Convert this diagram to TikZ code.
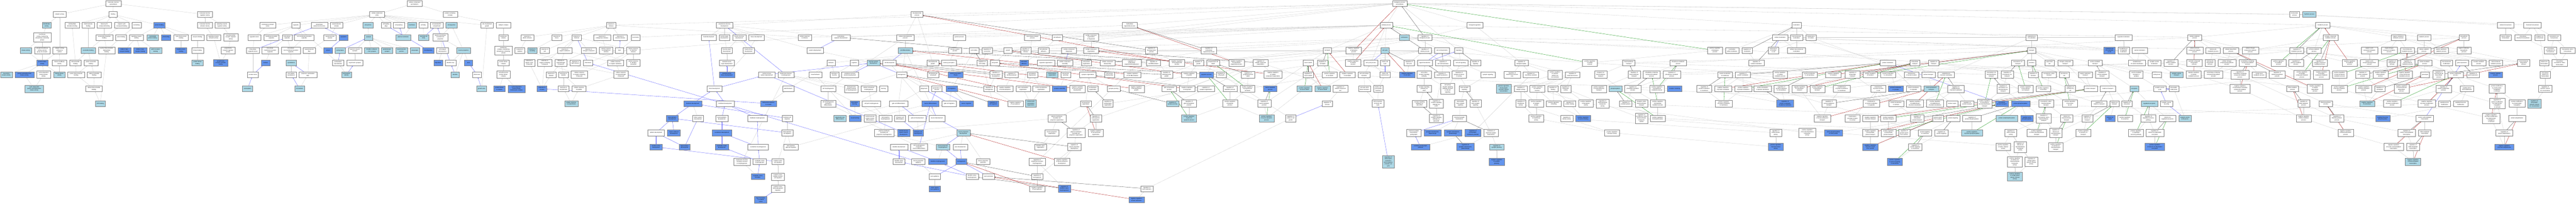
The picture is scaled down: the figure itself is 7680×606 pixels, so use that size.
\documentclass[tikz,border=0pt]{standalone}
\usepackage{fontspec}
\setmainfont{Liberation Sans}
\usetikzlibrary{arrows.meta}
\definecolor{lb}{HTML}{ADD8E6}
\definecolor{cf}{HTML}{6495ED}
\pgfdeclarelayer{bg}
\pgfsetlayers{bg,main}
\newcommand\N[6]{\node[g#5,minimum width=#4pt] (#1) at (#2,-#3) {#6};}
\begin{document}
\begin{tikzpicture}[x=1pt,y=1pt,
 gn/.style={draw=black!50,line width=0.6pt,rectangle,align=center,inner xsep=1pt,inner ysep=3.6pt,minimum height=17pt,font=\fontsize{3.9}{5.2}\selectfont},
 gw/.style={gn,fill=white},
 gl/.style={gn,fill=lb},
 gc/.style={gn,fill=cf},
 ee/.style={draw=black!22,line width=0.45pt,-{Latex[length=2.6pt,width=2.2pt]}},
 eb/.style={draw=blue!70!white,line width=0.5pt,-{Latex[length=2.6pt,width=2.2pt]}},
 er/.style={draw=red!65!black,line width=0.5pt,-{Latex[length=2.6pt,width=2.2pt]}},
 eg/.style={draw=green!55!black,line width=0.5pt,-{Latex[length=2.6pt,width=2.2pt]}},
 ek/.style={draw=black!75,line width=0.5pt,-{Latex[length=2.6pt,width=2.2pt]}}]
\useasboundingbox (0,0) rectangle (7680,-606);
% ---------------- molecular function
\N{m0}{338}{10}{45}{w}{molecular\_function\\GO:0003674}
\N{m1}{178}{43}{39}{w}{catalytic activity}
\N{m2}{337}{43}{24}{w}{binding}
\N{m3}{611}{43}{44}{w}{molecular function\\regulator activity}
\N{m4}{139}{75}{27}{l}{transferase\\activity}
\N{m5}{215}{75}{43}{w}{carbohydrate\\derivative binding}
\N{m6}{263}{75}{37}{w}{small molecule\\binding}
\N{m7}{311}{75}{43}{w}{heterocyclic\\compound binding}
\N{m8}{363}{75}{44}{w}{organic cyclic\\compound binding}
\N{m9}{407}{75}{27}{w}{ion binding}
\N{m10}{475}{75}{35}{c}{protein binding}
\N{m11}{611}{75}{44}{w}{molecular function\\activator activity}
\N{m12}{662}{75}{43}{w}{signaling receptor\\regulator activity}
\N{m13}{126}{111}{53}{w}{transferase\\activity, transferring\\phosphorus-containing\\groups}
\N{m14}{311}{111}{50}{w}{nucleoside phosphate\\binding}
\N{m15}{361}{111}{32}{w}{anion binding}
\N{m16}{407}{111}{42}{w}{signaling receptor\\binding}
\N{m17}{455}{111}{35}{l}{cytoskeletal\\protein binding}
\N{m18}{495}{111}{28}{c}{p53 binding}
\N{m19}{540}{111}{43}{w}{heat shock protein\\binding}
\N{m20}{589}{111}{38}{w}{enzyme binding}
\N{m21}{637}{111}{42}{w}{signaling receptor\\activator activity}
\N{m22}{688}{111}{43}{w}{neurotransmitter\\receptor regulator\\activity}
\N{m23}{77}{150}{35}{l}{kinase activity}
\N{m24}{126}{150}{46}{w}{phosphotransferase\\activity, alcohol\\group as acceptor}
\N{m25}{178}{150}{41}{w}{catalytic activity,\\acting on a\\protein}
\N{m26}{263}{150}{43}{l}{nucleotide binding}
\N{m27}{318}{150}{50}{w}{purine ribonucleoside\\triphosphate\\binding}
\N{m28}{371}{150}{38}{c}{ErbB-3 class\\receptor binding}
\N{m29}{418}{150}{39}{c}{ErbB-2 class\\receptor binding}
\N{m30}{464}{150}{36}{l}{ephrin receptor\\binding}
\N{m31}{540}{150}{34}{c}{Hsp90 protein\\binding}
\N{m32}{589}{150}{35}{w}{kinase binding}
\N{m33}{680}{150}{42}{w}{acetylcholine\\receptor regulator\\activity}
\N{m34}{126}{187}{34}{c}{protein kinase\\activity}
\N{m35}{177}{187}{43}{w}{histone modifying\\activity}
\N{m36}{225}{187}{34}{w}{ribonucleotide\\binding}
\N{m37}{271}{187}{41}{w}{purine nucleotide\\binding}
\N{m38}{589}{187}{34}{l}{protein kinase\\binding}
\N{m39}{658}{187}{43}{c}{acetylcholine\\receptor activator\\activity}
\N{m40}{19}{222}{35}{l}{tau-protein\\kinase activity}
\N{m41}{73}{222}{56}{c}{protein serine/threonine\\kinase activity}
\N{m42}{130}{222}{41}{w}{cyclin-dependent\\protein kinase\\activity}
\N{m43}{177}{222}{35}{l}{histone kinase\\activity}
\N{m44}{227}{222}{50}{w}{purine ribonucleoside\\binding}
\N{m45}{281}{222}{42}{w}{adenyl nucleotide\\binding}
\N{m46}{102}{264}{56}{l}{cyclin-dependent\\protein serine/threonine\\kinase activity}
\N{m47}{280}{264}{50}{w}{adenyl ribonucleotide\\binding}
\N{m48}{299}{308}{29}{l}{ATP binding}
% ---------------- cellular component
\N{c0}{1236}{10}{46}{w}{cellular\_component\\GO:0005575}
\N{c1}{1124}{43}{45}{w}{cellular anatomical\\entity}
\N{c2}{798}{75}{48}{w}{membrane-enclosed\\lumen}
\N{c3}{882}{75}{25}{w}{organelle}
\N{c4}{952}{75}{49}{w}{intracellular\\anatomical structure}
\N{c5}{1003}{75}{37}{w}{supramolecular\\complex}
\N{c6}{1097}{75}{30}{l}{cell junction}
\N{c7}{1151}{75}{28}{w}{cell leading\\edge}
\N{c8}{1189}{75}{33}{w}{cell periphery}
\N{c9}{1228}{75}{27}{l}{membrane}
\N{c10}{1262}{75}{25}{w}{cell body}
\N{c11}{758}{111}{39}{w}{organelle lumen}
\N{c12}{809}{111}{45}{w}{membrane-bounded\\organelle}
\N{c13}{856}{111}{29}{w}{intracellular\\organelle}
\N{c14}{907}{111}{58}{w}{non-membrane-bounded\\organelle}
\N{c15}{984}{111}{37}{w}{supramolecular\\polymer}
\N{c16}{1024}{111}{25}{c}{cytoplasm}
\N{c17}{1099}{111}{25}{l}{synapse}
\N{c18}{1202}{111}{44}{l}{plasma membrane}
\N{c19}{1263}{111}{30}{l}{neuronal cell\\body}
\N{c20}{754}{150}{39}{w}{intracellular\\organelle lumen}
\N{c21}{805}{150}{48}{w}{intracellular\\membrane-bounded\\organelle}
\N{c22}{867}{150}{57}{w}{intracellular\\non-membrane-bounded\\organelle}
\N{c23}{922}{150}{37}{w}{supramolecular\\fiber}
\N{c24}{978}{150}{25}{c}{cytosol}
\N{c25}{1014}{150}{30}{l}{postsynapse}
\N{c26}{1058}{150}{40}{w}{neuron to neuron\\synapse}
\N{c27}{1108}{150}{43}{l}{Schaffer collateral\\- CA1 synapse}
\N{c28}{1154}{150}{33}{l}{glutamatergic\\synapse}
\N{c29}{1197}{150}{35}{l}{neuromuscular\\junction}
\N{c30}{1237}{150}{27}{l}{presynapse}
\N{c31}{1277}{150}{33}{c}{lamellipodium}
\N{c32}{792}{187}{25}{c}{nucleus}
\N{c33}{868}{187}{31}{l}{cytoskeleton}
\N{c34}{1008}{187}{33}{w}{postsynaptic\\specialization}
\N{c35}{1058}{187}{48}{w}{asymmetric synapse}
\N{c36}{754}{222}{33}{w}{nuclear lumen}
\N{c37}{868}{222}{30}{w}{microtubule\\cytoskeleton}
\N{c38}{918}{222}{54}{w}{polymeric cytoskeletal\\fiber}
\N{c39}{1033}{222}{30}{l}{postsynaptic\\density}
\N{c40}{738}{264}{31}{l}{nucleoplasm}
\N{c41}{893}{264}{29}{l}{microtubule}
\N{c42}{1342}{43}{43}{w}{protein-containing\\complex}
\N{c43}{1302}{75}{39}{w}{somatodendritic\\compartment}
\N{c44}{1346}{75}{34}{l}{cell projection}
\N{c45}{1452}{75}{38}{w}{site of polarized\\growth}
\N{c46}{1501}{75}{43}{w}{catalytic complex}
\N{c47}{1313}{111}{44}{w}{plasma membrane\\bounded cell\\projection}
\N{c48}{1501}{111}{27}{w}{transferase\\complex}
\N{c49}{1319}{150}{34}{w}{actin-based\\cell projection}
\N{c50}{1382}{150}{41}{l}{neuron projection}
\N{c51}{1501}{150}{53}{w}{transferase\\complex, transferring\\phosphorus-containing\\groups}
\N{c52}{1306}{187}{26}{c}{filopodium}
\N{c53}{1343}{187}{32}{w}{dendritic tree}
\N{c54}{1397}{187}{25}{c}{axon}
\N{c55}{1501}{187}{34}{w}{protein kinase\\complex}
\N{c56}{1357}{222}{25}{l}{dendrite}
\N{c57}{1422}{222}{27}{w}{distal axon}
\N{c58}{1501}{222}{39}{w}{serine/threonine\\protein kinase\\complex}
\N{c59}{1436}{264}{30}{l}{growth cone}
\N{c60}{1489}{264}{34}{c}{protein kinase\\5 complex}
\N{c61}{1540}{264}{50}{c}{cyclin-dependent\\protein kinase\\holoenzyme complex}
% ---------------- biological process
\N{b0}{4173}{10}{43}{w}{biological\_process\\GO:0008150}
\N{b1}{2734}{43}{35}{w}{developmental\\process}
\N{b2}{3368}{75}{45}{w}{multicellular\\organismal process}
\N{b3}{4133}{75}{37}{w}{cellular process}
\N{b4}{4397}{75}{47}{w}{biological regulation}
\N{b5}{1822}{75}{28}{w}{response to\\stimulus}
\N{b6}{2160}{75}{49}{w}{anatomical structure\\development}
\N{b7}{5356}{75}{27}{w}{localization}
\N{b8}{6841}{43}{30}{w}{homeostatic\\process}
\N{b9}{6885}{43}{40}{l}{rhythmic process}
\N{b10}{6925}{75}{43}{w}{metabolic process}
\N{b11}{7470}{75}{49}{w}{cellular homeostasis}
\N{b12}{7550}{75}{52}{w}{chemical homeostasis}
\N{b13}{1572}{111}{38}{w}{response to\\abiotic stimulus}
\N{b14}{1660}{111}{29}{w}{response to\\stress}
\N{b15}{1719}{111}{28}{w}{response to\\chemical}
\N{b16}{1795}{111}{50}{w}{response to\\endogenous stimulus}
\N{b17}{1849}{111}{41}{w}{response to\\external stimulus}
\N{b18}{1895}{111}{27}{w}{locomotion}
\N{b19}{1550}{150}{29}{w}{response to\\radiation}
\N{b20}{1587}{150}{29}{l}{response to\\wounding}
\N{b21}{1624}{150}{28}{w}{response to\\salt}
\N{b22}{1684}{150}{43}{w}{response to\\organic substance}
\N{b23}{1755}{150}{45}{w}{response to\\nitrogen compound}
\N{b24}{1807}{150}{40}{w}{cellular response\\to endogenous\\stimulus}
\N{b25}{1847}{150}{25}{w}{taxis}
\N{b26}{1888}{150}{40}{w}{cellular response\\to chemical\\stimulus}
\N{b27}{1578}{187}{32}{w}{response to\\organic cyclic\\compound}
\N{b28}{1624}{187}{43}{w}{response to\\oxygen-containing\\compound}
\N{b29}{1672}{187}{36}{w}{response to\\organonitrogen\\compound}
\N{b30}{1715}{187}{31}{w}{response to\\light stimulus}
\N{b31}{1753}{187}{28}{w}{chemotaxis}
\N{b32}{1835}{187}{48}{w}{cellular response\\to organic substance}
\N{b33}{1888}{187}{40}{w}{cellular response\\to nitrogen\\compound}
\N{b34}{1643}{222}{28}{w}{response to\\alkaloid}
\N{b35}{1680}{222}{30}{w}{response to\\peptide}
\N{b36}{1727}{222}{50}{w}{cellular response\\to oxygen-containing\\compound}
\N{b37}{1851}{222}{42}{w}{cellular response\\to organonitrogen\\compound}
\N{b38}{1616}{264}{29}{c}{response to\\cocaine}
\N{b39}{1680}{264}{32}{w}{response to\\amyloid-beta}
\N{b40}{1726}{264}{40}{w}{cellular response\\to peptide}
\N{b41}{1703}{308}{40}{l}{cellular response\\to amyloid-beta}
\N{b42}{2113}{111}{44}{w}{head development}
\N{b43}{2160}{111}{31}{w}{animal organ\\development}
\N{b44}{2204}{111}{40}{w}{muscle structure\\development}
\N{b45}{2255}{111}{47}{w}{tissue development}
\N{b46}{2399}{111}{40}{w}{cellular response\\to stimulus}
\N{b47}{2507}{111}{54}{w}{multicellular\\organism development}
\N{b48}{2167}{150}{32}{w}{muscle organ\\development}
\N{b49}{2232}{150}{33}{w}{muscle tissue\\development}
\N{b50}{2430}{150}{50}{w}{system development}
\N{b51}{2167}{187}{45}{w}{skeletal muscle\\organ development}
\N{b52}{2478}{187}{25}{w}{behavior}
\N{b53}{2547}{187}{25}{w}{cognition}
\N{b54}{2604}{187}{38}{l}{nervous system\\development}
\N{b55}{2167}{222}{46}{c}{skeletal muscle\\tissue development}
\N{b56}{2286}{222}{49}{w}{central nervous\\system development}
\N{b57}{2343}{222}{48}{w}{anatomical structure\\morphogenesis}
\N{b58}{2431}{222}{37}{w}{visual behavior}
\N{b59}{2488}{222}{25}{w}{learning or\\memory}
\N{b60}{2534}{222}{50}{w}{peripheral nervous\\system development}
\N{b61}{2130}{264}{45}{w}{brain development}
\N{b62}{2350}{264}{34}{w}{adult behavior}
\N{b63}{2469}{264}{45}{w}{cell morphogenesis}
\N{b64}{2538}{264}{40}{w}{developmental\\growth involved\\in morphogenesis}
\N{b65}{2590}{264}{45}{w}{cellular component\\morphogenesis}
\N{b66}{2634}{264}{25}{w}{learning}
\N{b67}{2065}{308}{54}{c}{forebrain development}
\N{b68}{2162}{308}{54}{w}{hindbrain development}
\N{b69}{2291}{308}{47}{c}{behavioral response\\to cocaine}
\N{b70}{2469}{308}{45}{w}{cell morphogenesis\\involved in\\differentiation}
\N{b71}{2548}{308}{28}{c}{associative\\learning}
\N{b72}{2598}{308}{55}{w}{cell part morphogenesis}
\N{b73}{2004}{352}{34}{c}{telencephalon\\development}
\N{b74}{2081}{352}{33}{w}{limbic system\\development}
\N{b75}{2152}{352}{36}{w}{metencephalon\\development}
\N{b76}{2258}{352}{58}{w}{hindbrain morphogenesis}
\N{b77}{2347}{352}{30}{w}{forebrain cell\\migration}
\N{b78}{2504}{352}{37}{l}{oligodendrocyte\\differentiation}
\N{b79}{2549}{352}{35}{c}{visual learning}
\N{b80}{2594}{352}{36}{w}{central nervous\\system neuron\\differentiation}
\N{b81}{2640}{352}{38}{w}{cell projection\\morphogenesis}
\N{b82}{1956}{395}{49}{w}{pallium development}
\N{b83}{2009}{395}{38}{c}{corpus callosum\\development}
\N{b84}{2152}{395}{58}{c}{cerebellum development}
\N{b85}{2347}{395}{33}{w}{telencephalon\\cell migration}
\N{b86}{2636}{395}{59}{w}{plasma membrane\\bounded cell\\projection morphogenesis}
\N{b87}{1956}{437}{37}{c}{cerebral cortex\\development}
\N{b88}{2041}{437}{32}{c}{hippocampus\\development}
\N{b89}{2152}{437}{40}{c}{cerebellar cortex\\development}
\N{b90}{2260}{437}{62}{w}{cerebellum morphogenesis}
\N{b91}{2358}{437}{44}{w}{telencephalon\\glial cell migration}
\N{b92}{2212}{481}{49}{w}{anatomical structure\\formation involved\\in morphogenesis}
\N{b93}{2265}{481}{40}{w}{cerebellar cortex\\morphogenesis}
\N{b94}{2319}{481}{36}{w}{cerebral cortex\\cell migration}
\N{b95}{2259}{525}{40}{c}{cerebellar cortex\\formation}
\N{b96}{2319}{525}{38}{w}{cerebral cortex\\radially oriented\\cell migration}
\N{b97}{2319}{561}{40}{w}{cerebral cortex\\radial glia-guided\\migration}
\N{b98}{2268}{594}{37}{c}{layer formation\\in cerebral\\cortex}
\N{b99}{2699}{111}{52}{w}{cellular developmental\\process}
\N{b100}{2860}{111}{37}{w}{system process}
\N{b101}{3078}{111}{47}{w}{actin filament-based\\process}
\N{b102}{3152}{111}{30}{w}{cell adhesion}
\N{b103}{3253}{111}{45}{w}{cellular component\\organization\\or biogenesis}
\N{b104}{2699}{150}{42}{l}{cell differentiation}
\N{b105}{2847}{150}{38}{w}{nervous system\\process}
\N{b106}{2904}{150}{28}{w}{cell motility}
\N{b107}{2943}{150}{31}{w}{regulation of\\locomotion}
\N{b108}{3005}{150}{25}{w}{growth}
\N{b109}{3058}{150}{31}{w}{regulation of\\response to\\stimulus}
\N{b110}{3111}{150}{32}{w}{cell-substrate\\adhesion}
\N{b111}{3187}{150}{45}{w}{cellular component\\biogenesis}
\N{b112}{3253}{150}{44}{w}{cellular component\\organization}
\N{b113}{2652}{187}{40}{w}{cell development}
\N{b114}{2781}{187}{36}{w}{developmental\\growth}
\N{b115}{2829}{187}{45}{w}{sensory perception}
\N{b116}{2928}{187}{30}{w}{regulation of\\cell motility}
\N{b117}{2966}{187}{27}{w}{cell growth}
\N{b118}{3053}{187}{26}{c}{cell-matrix\\adhesion}
\N{b119}{3118}{187}{52}{w}{organelle organization}
\N{b120}{3175}{187}{45}{w}{cellular component\\assembly}
\N{b121}{3239}{187}{29}{w}{cell junction\\organization}
\N{b122}{3302}{187}{45}{w}{cellular component\\disassembly}
\N{b123}{2688}{222}{31}{w}{neurogenesis}
\N{b124}{2782}{222}{33}{w}{developmental\\cell growth}
\N{b125}{2849}{222}{44}{c}{sensory perception\\of pain}
\N{b126}{2969}{222}{37}{w}{regulation of\\nervous system\\development}
\N{b127}{3016}{222}{40}{w}{regulation of\\cell development}
\N{b128}{3078}{222}{31}{w}{cytoskeleton\\organization}
\N{b129}{3137}{222}{34}{l}{mitochondrion\\organization}
\N{b130}{3177}{222}{29}{w}{cell junction\\assembly}
\N{b131}{3243}{222}{50}{w}{synapse organization}
\N{b132}{3308}{222}{29}{w}{cell junction\\disassembly}
\N{b133}{2755}{264}{27}{w}{gliogenesis}
\N{b134}{2793}{264}{31}{w}{generation of\\neurons}
\N{b135}{2837}{264}{33}{c}{cell migration}
\N{b136}{2949}{264}{32}{w}{regulation of\\neurogenesis}
\N{b137}{2996}{264}{47}{w}{negative regulation\\of cell development}
\N{b138}{3050}{264}{43}{w}{actin cytoskeleton\\organization}
\N{b139}{3104}{264}{50}{w}{cortical cytoskeleton\\organization}
\N{b140}{3159}{264}{43}{c}{synapse assembly}
\N{b141}{3212}{264}{46}{w}{negative regulation\\of nervous system\\development}
\N{b142}{3258}{264}{30}{w}{postsynapse\\organization}
\N{b143}{3320}{264}{38}{w}{synapse pruning}
\N{b144}{2679}{308}{54}{w}{glial cell differentiation}
\N{b145}{2774}{308}{51}{c}{neuron differentiation}
\N{b146}{2830}{308}{43}{w}{glial cell migration}
\N{b147}{2881}{308}{40}{c}{neuron migration}
\N{b148}{2961}{308}{33}{c}{regulation of\\cell migration}
\N{b149}{3027}{308}{46}{w}{negative regulation\\of neurogenesis}
\N{b150}{3073}{308}{31}{l}{cortical actin\\cytoskeleton\\organization}
\N{b151}{3237}{308}{33}{w}{cell projection\\organization}
\N{b152}{3303}{308}{30}{w}{regulation of\\postsynapse\\organization}
\N{b153}{2683}{352}{33}{w}{Schwann cell\\differentiation}
\N{b154}{2735}{352}{52}{w}{glial cell development}
\N{b155}{2793}{352}{48}{w}{neuron development}
\N{b156}{3151}{352}{54}{w}{plasma membrane\\bounded cell\\projection organization}
\N{b157}{3267}{352}{33}{w}{regulation of\\cell projection\\organization}
\N{b158}{2694}{395}{37}{c}{central nervous\\system neuron\\development}
\N{b159}{2737}{395}{31}{c}{Schwann cell\\development}
\N{b160}{2872}{395}{40}{l}{neuron projection\\development}
\N{b161}{3136}{395}{42}{w}{neuron projection\\organization}
\N{b162}{3208}{395}{53}{w}{regulation of\\plasma membrane\\bounded cell\\projection organization}
\N{b163}{3267}{395}{44}{w}{negative regulation\\of cell projection\\organization}
\N{b164}{2680}{437}{52}{w}{dendrite development}
\N{b165}{2740}{437}{50}{w}{cell morphogenesis\\involved in\\neuron differentiation}
\N{b166}{2811}{437}{40}{l}{neuron projection\\morphogenesis}
\N{b167}{2863}{437}{43}{w}{axon development}
\N{b168}{3102}{437}{35}{w}{dendritic spine\\organization}
\N{b169}{3203}{437}{41}{w}{regulation of\\neuron projection\\development}
\N{b170}{2680}{481}{35}{w}{dendritic spine\\development}
\N{b171}{2738}{481}{40}{w}{neuron projection\\guidance}
\N{b172}{2796}{481}{55}{c}{dendrite morphogenesis}
\N{b173}{2866}{481}{32}{c}{axonogenesis}
\N{b174}{2931}{481}{40}{w}{neuron projection\\extension}
\N{b175}{3092}{481}{49}{w}{regulation of\\anatomical structure\\morphogenesis}
\N{b176}{3166}{481}{46}{w}{negative regulation\\of neuron projection\\development}
\N{b177}{2787}{525}{34}{w}{axon guidance}
\N{b178}{2898}{525}{37}{w}{dendritic spine\\morphogenesis}
\N{b179}{2947}{525}{36}{w}{axon extension}
\N{b180}{3092}{525}{33}{w}{regulation of\\axonogenesis}
\N{b181}{2787}{561}{34}{c}{motor neuron\\axon guidance}
\N{b182}{3092}{561}{46}{w}{negative regulation\\of axonogenesis}
\N{b183}{3173}{561}{37}{c}{regulation of\\dendritic spine\\morphogenesis}
\N{b184}{3433}{150}{35}{w}{regulation of\\developmental\\process}
\N{b185}{3604}{150}{46}{w}{regulation of\\multicellular\\organismal process}
\N{b186}{3957}{150}{25}{w}{cell death}
\N{b187}{4036}{150}{46}{w}{negative regulation\\of biological\\process}
\N{b188}{3374}{187}{58}{w}{regulation of\\multicellular\\organismal development}
\N{b189}{3439}{187}{42}{w}{regulation of\\cell differentiation}
\N{b190}{3509}{187}{46}{w}{negative regulation\\of developmental\\process}
\N{b191}{3573}{187}{30}{w}{regulation of\\growth}
\N{b192}{3617}{187}{39}{w}{programmed cell\\death}
\N{b193}{3686}{187}{46}{w}{negative regulation\\of multicellular\\organismal process}
\N{b194}{3758}{187}{45}{w}{regulation of\\cellular component\\organization}
\N{b195}{3900}{187}{31}{w}{neuron death}
\N{b196}{3943}{187}{30}{w}{regulation of\\cell death}
\N{b197}{4034}{187}{45}{w}{negative regulation\\of cellular\\process}
\N{b198}{4087}{187}{42}{w}{cell cycle process}
\N{b199}{3376}{222}{50}{w}{negative regulation\\of cell differentiation}
\N{b200}{3478}{222}{35}{w}{regulation of\\developmental\\growth}
\N{b201}{3545}{222}{45}{w}{negative regulation\\of growth}
\N{b202}{3597}{222}{42}{c}{apoptotic process}
\N{b203}{3641}{222}{30}{w}{regulation of\\cell growth}
\N{b204}{3721}{222}{40}{w}{regulation of\\programmed cell\\death}
\N{b205}{3795}{222}{55}{w}{negative regulation\\of cellular\\component organization}
\N{b206}{3900}{222}{31}{w}{regulation of\\neuron death}
\N{b207}{3964}{222}{44}{w}{positive regulation\\of cell death}
\N{b208}{4017}{222}{46}{w}{negative regulation\\of cell death}
\N{b209}{4067}{222}{36}{w}{cell cycle phase\\transition}
\N{b210}{3388}{264}{46}{w}{negative regulation\\of developmental\\growth}
\N{b211}{3486}{264}{43}{w}{glial cell apoptotic\\process}
\N{b212}{3539}{264}{45}{w}{negative regulation\\of cell growth}
\N{b213}{3595}{264}{50}{w}{regulation of\\synapse organization}
\N{b214}{3667}{264}{42}{w}{regulation of\\apoptotic process}
\N{b215}{3719}{264}{44}{w}{positive regulation\\of programmed\\cell death}
\N{b216}{3787}{264}{40}{c}{neuron apoptotic\\process}
\N{b217}{3889}{264}{44}{l}{positive regulation\\of neuron death}
\N{b218}{3943}{264}{46}{l}{negative regulation\\of neuron death}
\N{b219}{3996}{264}{45}{w}{regulation of\\cellular component\\size}
\N{b220}{4068}{264}{36}{w}{cell cycle G1/S\\phase transition}
\N{b221}{3496}{308}{38}{l}{regulation of\\synapse pruning}
\N{b222}{3545}{308}{44}{w}{regulation of\\glial cell apoptotic\\process}
\N{b223}{3667}{308}{44}{w}{positive regulation\\of apoptotic\\process}
\N{b224}{3769}{308}{40}{w}{regulation of\\neuron apoptotic\\process}
\N{b225}{3957}{308}{30}{w}{regulation of\\cell size}
\N{b226}{3545}{352}{44}{l}{positive regulation\\of glial cell\\apoptotic process}
\N{b227}{3776}{352}{45}{l}{positive regulation\\of neuron apoptotic\\process}
\N{b228}{3848}{352}{31}{w}{regulation of\\extent of cell\\growth}
\N{b229}{3419}{561}{37}{w}{regulation of\\axon extension}
\N{b230}{3388}{594}{46}{c}{negative regulation\\of axon extension}
\N{b231}{4187}{111}{29}{l}{cell division}
\N{b232}{4248}{111}{42}{w}{regulation of\\biological process}
\N{b233}{4129}{150}{24}{l}{cell cycle}
\N{b234}{4248}{150}{37}{w}{regulation of\\cellular process}
\N{b235}{4299}{150}{45}{w}{cell communication}
\N{b236}{4349}{150}{25}{w}{signaling}
\N{b237}{4129}{187}{27}{w}{mitotic cell\\cycle}
\N{b238}{4201}{187}{31}{w}{regulation of\\cell cycle}
\N{b239}{4248}{187}{45}{w}{signal transduction}
\N{b240}{4302}{187}{45}{w}{regulation of\\cell communication}
\N{b241}{4355}{187}{42}{w}{cell-cell signaling}
\N{b242}{4399}{187}{30}{w}{regulation of\\signaling}
\N{b243}{4536}{187}{40}{w}{regulation of\\biological quality}
\N{b244}{4740}{187}{44}{w}{positive regulation\\of cellular\\process}
\N{b245}{4129}{222}{31}{w}{mitotic cell\\cycle process}
\N{b246}{4195}{222}{45}{c}{negative regulation\\of cell cycle}
\N{b247}{4246}{222}{42}{w}{cell surface\\receptor signaling\\pathway}
\N{b248}{4299}{222}{45}{w}{regulation of\\signal transduction}
\N{b249}{4350}{222}{42}{w}{regulation of\\synapse structure\\or activity}
\N{b250}{4436}{222}{42}{w}{synaptic signaling}
\N{b251}{4508}{222}{49}{w}{regulation of\\anatomical structure\\size}
\N{b252}{4564}{222}{47}{w}{regulation of\\membrane potential}
\N{b253}{4636}{222}{44}{w}{positive regulation\\of cytosolic\\calcium ion\\concentration}
\N{b254}{4688}{222}{44}{w}{regulation of\\molecular function}
\N{b255}{4772}{222}{37}{w}{inorganic ion\\transmembrane\\transport}
\N{b256}{4109}{264}{28}{w}{mitotic cell\\cycle phase\\transition}
\N{b257}{4246}{264}{42}{w}{receptor signaling\\pathway via\\STAT}
\N{b258}{4316}{264}{42}{w}{cell surface\\receptor signaling\\pathway involved\\in cell-cell\\signaling}
\N{b259}{4366}{264}{33}{w}{trans-synaptic\\signaling}
\N{b260}{4483}{264}{44}{l}{positive regulation\\of presynaptic\\cytosolic calcium\\concentration}
\N{b261}{4534}{264}{39}{w}{regulation of\\catalytic activity}
\N{b262}{4583}{264}{44}{w}{positive regulation\\of molecular\\function}
\N{b263}{4630}{264}{30}{w}{regulation of\\binding}
\N{b264}{4668}{264}{30}{w}{regulation of\\transporter\\activity}
\N{b265}{4767}{264}{44}{w}{positive regulation\\of transmembrane\\transport}
\N{b266}{4816}{264}{38}{l}{phosphorylation}
\N{b267}{4108}{308}{35}{w}{G1/S transition\\of mitotic cell\\cycle}
\N{b268}{4232}{308}{44}{w}{receptor signaling\\pathway via\\JAK-STAT}
\N{b269}{4282}{308}{42}{w}{regulation of\\receptor signaling\\pathway via\\STAT}
\N{b270}{4354}{308}{34}{w}{anterograde\\trans-synaptic\\signaling}
\N{b271}{4399}{308}{34}{w}{regulation of\\trans-synaptic\\signaling}
\N{b272}{4534}{308}{30}{w}{regulation of\\transferase\\activity}
\N{b273}{4580}{308}{44}{w}{positive regulation\\of catalytic\\activity}
\N{b274}{4632}{308}{44}{w}{positive regulation\\of binding}
\N{b275}{4680}{308}{35}{w}{regulation of\\protein binding}
\N{b276}{4728}{308}{44}{w}{positive regulation\\of transporter\\activity}
\N{b277}{4778}{308}{37}{w}{regulation of\\transmembrane\\transporter\\activity}
\N{b278}{4847}{308}{37}{w}{regulation of\\phosphorylation}
\N{b279}{4282}{352}{42}{w}{regulation of\\receptor signaling\\pathway via\\JAK-STAT}
\N{b280}{4351}{352}{42}{w}{chemical synaptic\\transmission}
\N{b281}{4580}{352}{44}{w}{positive regulation\\of transferase\\activity}
\N{b282}{4671}{352}{36}{w}{regulation of\\kinase activity}
\N{b283}{4720}{352}{44}{c}{positive regulation\\of protein binding}
\N{b284}{4215}{395}{42}{w}{chemical synaptic\\transmission,\\postsynaptic}
\N{b285}{4271}{395}{52}{c}{synaptic transmission,\\dopaminergic}
\N{b286}{4332}{395}{52}{c}{synaptic transmission,\\glutamatergic}
\N{b287}{4391}{395}{47}{c}{regulation of\\postsynaptic\\membrane potential}
\N{b288}{4445}{395}{43}{w}{modulation of\\chemical synaptic\\transmission}
\N{b289}{4806}{395}{44}{w}{positive regulation\\of kinase activity}
\N{b290}{4235}{437}{54}{c}{excitatory postsynaptic\\potential}
\N{b291}{4369}{437}{52}{c}{regulation of\\synaptic transmission,\\glutamatergic}
\N{b292}{4462}{437}{43}{l}{regulation of\\synaptic plasticity}
\N{b293}{4462}{481}{46}{c}{negative regulation\\of synaptic\\plasticity}
\N{b294}{4139}{481}{35}{l}{regulation of\\transcription\\involved in\\G1/S transition\\of mitotic cell\\cycle}
\N{b295}{5307}{111}{46}{w}{cellular localization}
\N{b296}{5356}{111}{37}{w}{macromolecule\\localization}
\N{b297}{5399}{111}{30}{w}{maintenance\\of location}
\N{b298}{5113}{150}{44}{w}{positive regulation\\of biological\\process}
\N{b299}{5164}{150}{40}{w}{localization\\within membrane}
\N{b300}{5209}{150}{30}{w}{regulation of\\localization}
\N{b301}{5287}{150}{30}{w}{maintenance\\of location\\in cell}
\N{b302}{5356}{150}{54}{w}{cellular macromolecule\\localization}
\N{b303}{4856}{187}{37}{w}{transmembrane\\transport}
\N{b304}{5003}{187}{50}{w}{phosphorus metabolic\\process}
\N{b305}{5236}{187}{46}{w}{regulation of\\cellular localization}
\N{b306}{4872}{222}{37}{w}{regulation of\\transmembrane\\transport}
\N{b307}{4924}{222}{50}{w}{phosphate-containing\\compound metabolic\\process}
\N{b308}{4984}{222}{52}{w}{regulation of\\phosphorus metabolic\\process}
\N{b309}{5143}{222}{44}{w}{protein localization\\to membrane}
\N{b310}{5196}{222}{45}{w}{regulation of\\protein localization}
\N{b311}{5307}{222}{44}{w}{positive regulation\\of cellular\\metabolic process}
\N{b312}{5395}{222}{44}{w}{protein localization\\to cell periphery}
\N{b313}{5466}{222}{46}{w}{negative regulation\\of transport}
\N{b314}{5523}{222}{44}{w}{regulation of\\intracellular\\transport}
\N{b315}{4868}{264}{48}{w}{regulation of\\phosphate metabolic\\process}
\N{b316}{4940}{264}{44}{w}{positive regulation\\of phosphorus\\metabolic process}
\N{b317}{4993}{264}{43}{c}{receptor clustering}
\N{b318}{5081}{264}{44}{w}{regulation of\\protein localization\\to membrane}
\N{b319}{5137}{264}{51}{w}{negative regulation\\of protein localization}
\N{b320}{5197}{264}{50}{w}{positive regulation\\of protein localization}
\N{b321}{5255}{264}{51}{w}{protein localization\\to plasma membrane}
\N{b322}{5311}{264}{45}{w}{regulation of\\protein localization\\to cell periphery}
\N{b323}{5365}{264}{45}{w}{negative regulation\\of intracellular\\transport}
\N{b324}{5418}{264}{44}{w}{positive regulation\\of intracellular\\transport}
\N{b325}{5491}{264}{50}{w}{establishment\\of protein localization\\to membrane}
\N{b326}{4894}{308}{37}{w}{inorganic cation\\transmembrane\\transport}
\N{b327}{4942}{308}{44}{w}{positive regulation\\of phosphate\\metabolic process}
\N{b328}{5139}{308}{51}{w}{positive regulation\\of protein localization\\to membrane}
\N{b329}{5322}{308}{50}{c}{regulation of\\protein localization\\to plasma membrane}
\N{b330}{5453}{308}{44}{w}{regulation of\\nucleocytoplasmic\\transport}
\N{b331}{4894}{352}{38}{w}{regulation of\\monoatomic cation\\transmembrane\\transporter\\activity}
\N{b332}{4942}{352}{44}{w}{positive regulation\\of phosphorylation}
\N{b333}{5433}{352}{49}{w}{negative regulation\\of nucleocytoplasmic\\transport}
\N{b334}{5523}{352}{44}{w}{maintenance\\of protein location\\in nucleus}
\N{b335}{5294}{395}{34}{w}{regulation of\\protein kinase\\activity}
\N{b336}{5388}{395}{50}{w}{positive regulation\\of ion transmembrane\\transporter\\activity}
\N{b337}{5466}{395}{53}{c}{serine phosphorylation\\of STAT protein}
\N{b338}{5294}{437}{44}{c}{positive regulation\\of protein kinase\\activity}
\N{b339}{6057}{111}{34}{w}{establishment\\of localization}
\N{b340}{6057}{150}{25}{w}{transport}
\N{b341}{5628}{187}{45}{w}{protein localization}
\N{b342}{5709}{187}{29}{w}{intracellular\\transport}
\N{b343}{5765}{187}{30}{w}{regulation of\\transport}
\N{b344}{6016}{187}{37}{w}{monoatomic ion\\transport}
\N{b345}{6057}{187}{25}{w}{secretion}
\N{b346}{6110}{187}{28}{w}{export from\\cell}
\N{b347}{6157}{187}{45}{w}{nitrogen compound\\transport}
\N{b348}{6246}{187}{42}{w}{vesicle-mediated\\transport}
\N{b349}{5576}{222}{44}{w}{positive regulation\\of transport}
\N{b350}{5629}{222}{45}{w}{protein localization\\to cell junction}
\N{b351}{5699}{222}{43}{w}{maintenance\\of protein location}
\N{b352}{5749}{222}{40}{w}{nuclear transport}
\N{b353}{5802}{222}{50}{w}{establishment\\of protein localization}
\N{b354}{5937}{222}{37}{w}{monoatomic ion\\transmembrane\\transport}
\N{b355}{5984}{222}{37}{w}{regulation of\\monoatomic ion\\transport}
\N{b356}{6062}{222}{30}{w}{regulation of\\secretion}
\N{b357}{6109}{222}{43}{w}{monoatomic cation\\transport}
\N{b358}{6154}{222}{30}{w}{secretion by\\cell}
\N{b359}{6217}{222}{42}{w}{organic substance\\transport}
\N{b360}{6267}{222}{41}{w}{regulation of\\vesicle-mediated\\transport}
\N{b361}{5600}{264}{44}{w}{maintenance\\of protein location\\in cell}
\N{b362}{5652}{264}{44}{c}{protein localization\\to synapse}
\N{b363}{5705}{264}{44}{w}{protein localization\\to organelle}
\N{b364}{5758}{264}{44}{l}{nucleocytoplasmic\\transport}
\N{b365}{5831}{264}{50}{w}{regulation of\\establishment\\of protein localization}
\N{b366}{5972}{264}{38}{w}{regulation of\\monoatomic ion\\transmembrane\\transport}
\N{b367}{6039}{264}{44}{w}{positive regulation\\of monoatomic\\ion transport}
\N{b368}{6092}{264}{43}{w}{positive regulation\\of secretion}
\N{b369}{6172}{264}{30}{w}{regulation of\\secretion by\\cell}
\N{b370}{6233}{264}{40}{w}{protein transport}
\N{b371}{6284}{264}{45}{w}{metal ion transport}
\N{b372}{5579}{308}{50}{w}{maintenance\\of protein localization\\in organelle}
\N{b373}{5653}{308}{44}{w}{protein localization\\to nucleus}
\N{b374}{5709}{308}{50}{w}{negative regulation\\of establishment\\of protein localization}
\N{b375}{5769}{308}{50}{w}{positive regulation\\of establishment\\of protein localization}
\N{b376}{5820}{308}{33}{w}{nuclear export}
\N{b377}{5865}{308}{40}{w}{regulation of\\protein transport}
\N{b378}{5917}{308}{44}{w}{positive regulation\\of monoatomic\\ion transmembrane\\transport}
\N{b379}{5968}{308}{39}{c}{intracellular\\protein transport}
\N{b380}{6024}{308}{55}{c}{protein phosphorylation}
\N{b381}{6100}{308}{45}{w}{monoatomic cation\\transmembrane\\transport}
\N{b382}{6171}{308}{44}{w}{positive regulation\\of secretion\\by cell}
\N{b383}{6258}{308}{45}{w}{regulation of\\metal ion transport}
\N{b384}{5576}{352}{46}{w}{negative regulation\\of protein transport}
\N{b385}{5630}{352}{46}{w}{positive regulation\\of protein transport}
\N{b386}{5716}{352}{40}{w}{regulation of\\intracellular\\protein transport}
\N{b387}{5778}{352}{33}{w}{protein export\\from nucleus}
\N{b388}{5823}{352}{40}{w}{protein targeting}
\N{b389}{5879}{352}{55}{w}{regulation of\\protein phosphorylation}
\N{b390}{5983}{352}{65}{l}{protein autophosphorylation}
\N{b391}{6043}{352}{38}{c}{peptidyl-serine\\phosphorylation}
\N{b392}{6093}{352}{45}{w}{regulation of\\monoatomic cation\\transmembrane\\transport}
\N{b393}{6161}{352}{37}{w}{calcium ion\\transmembrane\\transport}
\N{b394}{6223}{352}{32}{w}{regulation of\\calcium ion\\transport}
\N{b395}{5576}{395}{45}{w}{negative regulation\\of intracellular\\protein transport}
\N{b396}{5630}{395}{45}{w}{positive regulation\\of intracellular\\protein transport}
\N{b397}{5677}{395}{33}{w}{regulation of\\protein export\\from nucleus}
\N{b398}{5739}{395}{40}{w}{protein targeting\\to membrane}
\N{b399}{5788}{395}{39}{w}{regulation of\\protein targeting}
\N{b400}{5879}{395}{62}{l}{positive regulation\\of protein phosphorylation}
\N{b401}{5995}{395}{35}{w}{regulation of\\cation channel\\activity}
\N{b402}{6072}{395}{57}{w}{positive regulation\\of cation transmembrane\\transport}
\N{b403}{6129}{395}{38}{w}{regulation of\\calcium ion\\transmembrane\\transport}
\N{b404}{6211}{395}{44}{w}{positive regulation\\of calcium ion\\transport}
\N{b405}{5576}{437}{45}{c}{negative regulation\\of protein export\\from nucleus}
\N{b406}{5710}{437}{40}{w}{regulation of\\protein targeting\\to membrane}
\N{b407}{5972}{437}{44}{w}{positive regulation\\of cation channel\\activity}
\N{b408}{6023}{437}{38}{w}{regulation of\\calcium ion\\transmembrane\\transporter\\activity}
\N{b409}{6129}{437}{44}{w}{positive regulation\\of calcium ion\\transmembrane\\transport}
\N{b410}{5649}{481}{45}{c}{positive regulation\\of protein targeting\\to membrane}
\N{b411}{6007}{481}{44}{w}{positive regulation\\of calcium ion\\transmembrane\\transporter\\activity}
\N{b412}{6056}{481}{38}{w}{regulation of\\voltage-gated\\calcium channel\\activity}
\N{b413}{6007}{525}{44}{l}{positive regulation\\of voltage-gated\\calcium channel\\activity}
\N{b414}{6331}{111}{51}{w}{organelle localization}
\N{b415}{6543}{111}{42}{w}{cellular metabolic\\process}
\N{b416}{6948}{111}{45}{w}{nitrogen compound\\metabolic process}
\N{b417}{6289}{150}{34}{c}{establishment\\of localization\\in cell}
\N{b418}{6331}{150}{34}{w}{establishment\\of organelle\\localization}
\N{b419}{6379}{150}{45}{w}{vesicle localization}
\N{b420}{6543}{150}{49}{w}{cellular aromatic\\compound metabolic\\process}
\N{b421}{6598}{150}{43}{w}{heterocycle\\metabolic process}
\N{b422}{6651}{150}{47}{w}{cellular biosynthetic\\process}
\N{b423}{6709}{150}{49}{w}{cellular nitrogen\\compound metabolic\\process}
\N{b424}{6847}{150}{42}{w}{regulation of\\metabolic process}
\N{b425}{6899}{150}{43}{w}{primary metabolic\\process}
\N{b426}{6371}{187}{50}{w}{establishment\\of vesicle localization}
\N{b427}{6423}{187}{37}{w}{synaptic vesicle\\localization}
\N{b428}{6472}{187}{42}{w}{regulation of\\cellular metabolic\\process}
\N{b429}{6542}{187}{47}{w}{aromatic compound\\biosynthetic\\process}
\N{b430}{6589}{187}{29}{w}{heterocycle\\biosynthetic\\process}
\N{b431}{6639}{187}{54}{w}{cellular nitrogen\\compound biosynthetic\\process}
\N{b432}{6701}{187}{52}{w}{nucleobase-containing\\compound metabolic\\process}
\N{b433}{6793}{187}{44}{w}{positive regulation\\of metabolic\\process}
\N{b434}{6845}{187}{44}{w}{regulation of\\primary metabolic\\process}
\N{b435}{6916}{187}{44}{w}{regulation of\\nitrogen compound\\metabolic process}
\N{b436}{6369}{222}{40}{w}{vesicle-mediated\\transport in\\synapse}
\N{b437}{6430}{222}{28}{w}{endocytosis}
\N{b438}{6489}{222}{37}{l}{synaptic vesicle\\transport}
\N{b439}{6540}{222}{45}{w}{negative regulation\\of cellular\\metabolic process}
\N{b440}{6599}{222}{55}{w}{nucleobase-containing\\compound biosynthetic\\process}
\N{b441}{6678}{222}{53}{w}{regulation of\\nucleobase-containing\\compound metabolic\\process}
\N{b442}{6735}{222}{42}{w}{nucleic acid\\metabolic process}
\N{b443}{6789}{222}{47}{w}{regulation of\\cellular biosynthetic\\process}
\N{b444}{6863}{222}{48}{w}{positive regulation\\of nitrogen\\compound metabolic\\process}
\N{b445}{6921}{222}{48}{w}{negative regulation\\of nitrogen\\compound metabolic\\process}
\N{b446}{6975}{222}{44}{w}{positive regulation\\of macromolecule\\metabolic process}
\N{b447}{6363}{264}{26}{l}{exocytosis}
\N{b448}{6439}{264}{38}{w}{synaptic vesicle\\cycle}
\N{b449}{6481}{264}{29}{w}{presynaptic\\endocytosis}
\N{b450}{6678}{264}{59}{w}{negative regulation\\of nucleobase-containing\\compound metabolic\\process}
\N{b451}{6835}{264}{35}{w}{RNA metabolic\\process}
\N{b452}{6902}{264}{46}{w}{negative regulation\\of cellular\\biosynthetic\\process}
\N{b453}{6974}{264}{48}{w}{positive regulation\\of protein metabolic\\process}
\N{b454}{6304}{308}{28}{w}{calcium ion\\transport}
\N{b455}{6341}{308}{30}{w}{regulation of\\exocytosis}
\N{b456}{6408}{308}{49}{l}{regulated exocytosis}
\N{b457}{6459}{308}{37}{w}{synaptic vesicle\\recycling}
\N{b458}{6868}{308}{35}{w}{regulation of\\RNA metabolic\\process}
\N{b459}{6934}{308}{40}{w}{RNA biosynthetic\\process}
\N{b460}{6291}{352}{28}{c}{calcium ion\\import}
\N{b461}{6335}{352}{44}{w}{positive regulation\\of exocytosis}
\N{b462}{6405}{352}{45}{w}{regulation of\\regulated secretory\\pathway}
\N{b463}{6462}{352}{48}{w}{calcium-ion\\regulated exocytosis}
\N{b464}{6514}{352}{37}{l}{synaptic vesicle\\endocytosis}
\N{b465}{6868}{352}{45}{w}{negative regulation\\of RNA metabolic\\process}
\N{b466}{6967}{352}{41}{w}{regulation of\\RNA biosynthetic\\process}
\N{b467}{6368}{395}{44}{w}{positive regulation\\of regulated\\secretory pathway}
\N{b468}{6424}{395}{54}{w}{regulation of\\calcium ion-dependent\\exocytosis}
\N{b469}{6424}{437}{59}{c}{positive regulation\\of calcium ion-dependent\\exocytosis}
\N{b470}{7150}{111}{43}{w}{organic substance\\metabolic process}
\N{b471}{7227}{111}{41}{w}{catabolic process}
\N{b472}{7346}{111}{29}{w}{biosynthetic\\process}
\N{b473}{7470}{111}{34}{w}{neuron cellular\\homeostasis}
\N{b474}{7522}{111}{50}{w}{intracellular\\chemical homeostasis}
\N{b475}{7572}{111}{30}{w}{inorganic ion\\homeostasis}
\N{b476}{7615}{111}{38}{w}{monoatomic ion\\homeostasis}
\N{b477}{7064}{150}{49}{w}{organic cyclic\\compound metabolic\\process}
\N{b478}{7123}{150}{48}{w}{organonitrogen\\compound metabolic\\process}
\N{b479}{7177}{150}{42}{w}{macromolecule\\metabolic process}
\N{b480}{7227}{150}{40}{w}{cellular catabolic\\process}
\N{b481}{7278}{150}{42}{w}{organic substance\\catabolic process}
\N{b482}{7346}{150}{42}{w}{organic substance\\biosynthetic\\process}
\N{b483}{7604}{150}{37}{w}{intracellular\\monoatomic ion\\homeostasis}
\N{b484}{7655}{150}{44}{w}{monoatomic cation\\homeostasis}
\N{b485}{7005}{187}{45}{w}{negative regulation\\of metabolic\\process}
\N{b486}{7064}{187}{54}{w}{organic cyclic\\compound biosynthetic\\process}
\N{b487}{7132}{187}{30}{w}{regulation of\\biosynthetic\\process}
\N{b488}{7178}{187}{42}{w}{regulation of\\macromolecule\\metabolic process}
\N{b489}{7229}{187}{42}{w}{protein metabolic\\process}
\N{b490}{7294}{187}{35}{w}{macromolecule\\modification}
\N{b491}{7340}{187}{38}{w}{gene expression}
\N{b492}{7390}{187}{43}{w}{receptor metabolic\\process}
\N{b493}{7441}{187}{40}{w}{macromolecule\\catabolic process}
\N{b494}{7524}{187}{37}{w}{macromolecule\\biosynthetic\\process}
\N{b495}{7585}{187}{29}{w}{calcium ion\\homeostasis}
\N{b496}{7631}{187}{45}{w}{intracellular\\monoatomic cation\\homeostasis}
\N{b497}{7044}{222}{42}{w}{regulation of\\protein metabolic\\process}
\N{b498}{7097}{222}{45}{w}{negative regulation\\of biosynthetic\\process}
\N{b499}{7169}{222}{45}{w}{negative regulation\\of macromolecule\\metabolic process}
\N{b500}{7230}{222}{26}{w}{proteolysis}
\N{b501}{7271}{222}{35}{w}{regulation of\\macromolecule\\biosynthetic\\process}
\N{b502}{7321}{222}{46}{w}{protein modification\\process}
\N{b503}{7373}{222}{38}{w}{regulation of\\gene expression}
\N{b504}{7440}{222}{42}{c}{receptor catabolic\\process}
\N{b505}{7588}{222}{30}{w}{intracellular\\calcium ion\\homeostasis}
\N{b506}{7047}{264}{47}{w}{negative regulation\\of protein metabolic\\process}
\N{b507}{7095}{264}{30}{w}{regulation of\\proteolysis}
\N{b508}{7160}{264}{45}{w}{negative regulation\\of macromolecule\\biosynthetic\\process}
\N{b509}{7285}{264}{46}{w}{regulation of\\protein modification\\process}
\N{b510}{7355}{264}{40}{w}{peptidyl-amino\\acid modification}
\N{b511}{7444}{264}{47}{w}{protein modification\\by small protein\\conjugation\\or removal}
\N{b512}{7588}{264}{40}{w}{regulation of\\cytosolic calcium\\ion concentration}
\N{b513}{7057}{308}{45}{l}{negative regulation\\of proteolysis}
\N{b514}{7132}{308}{53}{w}{positive regulation\\of protein modification\\process}
\N{b515}{7235}{308}{53}{w}{negative regulation\\of protein modification\\process}
\N{b516}{7288}{308}{35}{w}{peptidyl-serine\\modification}
\N{b517}{7336}{308}{42}{w}{peptidyl-threonine\\modification}
\N{b518}{7445}{308}{47}{w}{regulation of\\protein modification\\by small protein\\conjugation\\or removal}
\N{b519}{7504}{308}{47}{w}{protein modification\\by small protein\\conjugation}
\N{b520}{7556}{308}{41}{l}{regulation of\\presynaptic\\cytosolic calcium\\ion concentration}
\N{b521}{7104}{352}{43}{c}{peptidyl-threonine\\phosphorylation}
\N{b522}{7229}{352}{53}{w}{nucleic acid-templated\\transcription}
\N{b523}{7427}{352}{53}{w}{negative regulation\\of protein modification\\by small protein\\conjugation\\or removal}
\N{b524}{7504}{352}{50}{w}{protein ubiquitination}
\N{b525}{6993}{395}{46}{w}{negative regulation\\of RNA biosynthetic\\process}
\N{b526}{7175}{395}{53}{w}{regulation of\\nucleic acid-templated\\transcription}
\N{b527}{7229}{395}{37}{w}{DNA-templated\\transcription}
\N{b528}{7466}{395}{50}{w}{regulation of\\protein ubiquitination}
\N{b529}{7136}{437}{58}{w}{negative regulation\\of nucleic acid-templated\\transcription}
\N{b530}{7194}{437}{37}{w}{regulation of\\DNA-templated\\transcription}
\N{b531}{7466}{437}{56}{c}{negative regulation\\of protein ubiquitination}
\N{b532}{7194}{481}{46}{l}{negative regulation\\of DNA-templated\\transcription}
% ---------------- edges
\begin{pgfonlayer}{bg}
\fill[white] (0,0) rectangle (7680,-606);
\foreach \a/\b in {m1/m0,m2/m0,m3/m0,m4/m1,m25/m1,m5/m2,m6/m2,m7/m2,m8/m2,m9/m2,m10/m2,m11/m3,m12/m3,m13/m4,m14/m7,m14/m8,m15/m9,m16/m10,m17/m10,m18/m10,m19/m10,m20/m10,m21/m11,m22/m12,m23/m13,m24/m13,m26/m14,m26/m6,m27/m14,m27/m15,m28/m16,m29/m16,m30/m16,m31/m19,m32/m20,m33/m22,m34/m23,m34/m24,m34/m25,m35/m25,m36/m26,m36/m5,m37/m26,m38/m32,m39/m33,m39/m21,m40/m34,m41/m34,m42/m34,m43/m34,m43/m35,m44/m36,m44/m37,m45/m37,m46/m41,m46/m42,m47/m44,m47/m45,m48/m47,m48/m27,
c1/c0,c42/c0,c2/c1,c3/c1,c4/c1,c5/c1,c6/c1,c7/c1,c8/c1,c9/c1,c10/c1,c43/c1,c44/c1,c45/c1,c11/c2,c11/c3,c12/c3,c14/c3,c15/c5,c17/c6,c18/c9,c19/c10,c21/c12,c21/c13,c22/c13,c22/c14,c23/c15,c26/c17,c27/c17,c28/c17,c29/c17,c30/c17,c32/c21,c33/c22,c35/c26,c36/c20,c37/c33,c38/c23,c39/c34,c41/c38,c46/c42,c48/c46,c51/c48,c55/c51,c58/c55,c60/c58,c61/c58,c47/c44,c49/c47,c50/c47,c50/c44,c52/c49,c53/c50,c54/c50,c56/c50,c59/c45,c34/c3,c20/c11}
 \draw[ee] (\a) -- (\b);
\foreach \a/\b in {c13/c4,c16/c4,c18/c8,c20/c13,c24/c16,c25/c17,c31/c7,c34/c25,c36/c32,c38/c33,c39/c35,c40/c36,c41/c37,c19/c43,c56/c53,c57/c54,c59/c57,c53/c43}
 \draw[eb] (\a) -- (\b);
\foreach \a/\b in {b5/b0,b13/b5,b14/b5,b15/b5,b16/b5,b17/b5,b18/b0,b46/b5,b46/b3,b19/b13,b20/b14,b21/b15,b22/b15,b23/b15,b24/b16,b24/b26,b25/b18,b26/b15,b26/b46,b27/b22,b28/b15,b29/b22,b29/b23,b30/b19,b31/b25,b32/b22,b32/b26,b33/b23,b33/b26,b34/b29,b35/b29,b36/b28,b36/b26,b37/b29,b37/b32,b37/b33,b38/b27,b38/b28,b38/b34,b39/b35,b40/b35,b40/b37,b41/b39,b41/b40,
b1/b0,b6/b1,b2/b0,b47/b2,b47/b6,b42/b6,b43/b6,b44/b6,b45/b6,b48/b43,b48/b44,b49/b45,b49/b44,b50/b6,b51/b48,b55/b49,b54/b50,b92/b57,b95/b92,b97/b96,b96/b94,b94/b85,b85/b77,b91/b85,b91/b146,b74/b67,
b52/b0,b53/b105,b58/b52,b59/b53,b59/b52,b62/b52,b66/b59,b71/b66,b79/b71,b79/b58,b69/b62,b63/b57,b63/b99,b70/b63,b64/b57,b64/b114,b65/b57,b72/b65,b81/b72,b81/b63,b86/b81,b86/b156,b78/b144,b80/b145,
b3/b0,b99/b3,b99/b1,b104/b99,b133/b123,b134/b123,b144/b133,b144/b104,b145/b104,b153/b144,b155/b113,b158/b155,b159/b154,b166/b86,b167/b160,b164/b160,b165/b70,b172/b166,b177/b171,b181/b177,b179/b174,b174/b160,b146/b135,b147/b135,b135/b106,b106/b3,b114/b108,b114/b1,b124/b114,b124/b117,b117/b108,b108/b0,b105/b100,b100/b3,b115/b105,b125/b115,b101/b3,b102/b3,b103/b3,b112/b103,b111/b103,b110/b102,b118/b110,b119/b112,b120/b112,b121/b112,b122/b112,b128/b119,b129/b119,b130/b121,b130/b120,b131/b121,b132/b121,b132/b122,b138/b128,b138/b101,b139/b128,b140/b131,b140/b130,b142/b131,b143/b131,b150/b139,b150/b138,b151/b112,b156/b151,b161/b156,b168/b161,b157/b194,b162/b157,b163/b157,b169/b162,b176/b169,b175/b184,b180/b175,b180/b169,b182/b180,b183/b175,b116/b107,b126/b184,b127/b189,b136/b126,b137/b127,b141/b126,b148/b116,b149/b136,b152/b213,b107/b232,b109/b234,
b184/b232,b185/b232,b186/b3,b187/b232,b188/b185,b189/b184,b190/b184,b190/b187,b191/b232,b192/b186,b193/b185,b193/b187,b194/b234,b195/b186,b196/b234,b197/b234,b197/b187,b198/b3,b199/b189,b199/b190,b200/b191,b200/b184,b201/b191,b202/b192,b203/b191,b204/b196,b205/b194,b206/b196,b207/b196,b208/b196,b209/b198,b210/b200,b210/b201,b211/b202,b212/b203,b212/b201,b213/b194,b214/b204,b215/b204,b215/b207,b216/b202,b216/b195,b217/b206,b217/b207,b218/b206,b218/b208,b219/b194,b220/b209,b221/b213,b222/b214,b223/b214,b223/b215,b224/b214,b224/b206,b225/b219,b226/b222,b226/b223,b227/b224,b227/b223,b227/b217,b228/b203,b229/b228,b230/b229,
b4/b0,b232/b4,b231/b3,b233/b3,b234/b232,b235/b3,b236/b0,b237/b233,b238/b234,b240/b234,b241/b235,b241/b236,b242/b234,b243/b4,b244/b234,b244/b298,b245/b198,b246/b238,b246/b197,b247/b239,b248/b240,b248/b242,b249/b234,b250/b241,b251/b243,b252/b243,b253/b243,b254/b232,b255/b303,b256/b209,b256/b245,b257/b247,b258/b247,b258/b241,b259/b250,b260/b253,b261/b254,b262/b254,b262/b244,b263/b254,b264/b254,b265/b306,b266/b307,b267/b256,b267/b220,b268/b257,b269/b248,b270/b259,b271/b249,b272/b261,b273/b261,b273/b262,b274/b263,b274/b262,b275/b263,b276/b264,b276/b262,b277/b264,b279/b269,b280/b270,b281/b272,b281/b273,b282/b272,b283/b275,b283/b274,b285/b280,b286/b280,b287/b252,b288/b271,b289/b282,b289/b281,b290/b287,b291/b288,b292/b288,b293/b292,
b7/b0,b295/b7,b296/b7,b297/b7,b298/b232,b299/b7,b300/b232,b301/b297,b302/b296,b302/b295,b303/b340,b304/b415,b305/b300,b306/b343,b307/b304,b308/b428,b309/b341,b310/b305,b311/b428,b311/b244,b312/b341,b313/b343,b314/b343,b315/b308,b316/b308,b317/b119,b318/b310,b319/b310,b320/b310,b321/b312,b321/b309,b322/b310,b323/b314,b323/b313,b324/b314,b324/b349,b325/b309,b325/b353,b278/b315,b326/b255,b327/b315,b327/b316,b328/b318,b328/b320,b329/b318,b329/b322,b330/b314,b331/b277,b332/b278,b332/b327,b333/b330,b333/b323,b334/b361,b335/b282,b336/b276,b337/b380,b338/b335,b338/b289,
b339/b7,b340/b339,b341/b296,b342/b340,b343/b300,b344/b340,b345/b340,b346/b340,b347/b340,b348/b340,b349/b343,b350/b341,b351/b297,b352/b342,b353/b341,b353/b339,b354/b344,b354/b303,b355/b343,b356/b343,b357/b344,b358/b345,b358/b346,b359/b340,b360/b343,b361/b351,b362/b341,b363/b341,b364/b352,b365/b310,b366/b355,b367/b355,b367/b349,b368/b356,b369/b356,b370/b347,b370/b359,b372/b361,b372/b363,b373/b363,b374/b365,b374/b319,b375/b365,b375/b320,b376/b364,b377/b365,b378/b366,b378/b367,b379/b370,b380/b266,b380/b489,b381/b354,b381/b357,b382/b369,b382/b368,b383/b355,b384/b377,b384/b374,b385/b377,b385/b375,b386/b377,b386/b314,b387/b376,b387/b379,b388/b379,b389/b278,b390/b380,b391/b380,b391/b516,b392/b366,b393/b381,b393/b454,b394/b383,b395/b386,b395/b384,b396/b386,b396/b385,b397/b386,b398/b388,b398/b309,b399/b377,b400/b389,b400/b332,b401/b392,b402/b392,b402/b378,b403/b392,b403/b394,b404/b394,b405/b397,b405/b395,b406/b399,b407/b401,b408/b331,b408/b401,b409/b403,b409/b404,b410/b406,b411/b408,b411/b407,b412/b401,b412/b408,b413/b411,b413/b412,
b8/b0,b9/b0,b10/b0,b414/b295,b415/b10,b415/b3,b416/b10,b417/b295,b417/b339,b418/b414,b418/b417,b419/b295,b420/b415,b421/b415,b422/b415,b422/b472,b423/b415,b423/b416,b424/b232,b425/b10,b426/b418,b426/b419,b427/b419,b428/b424,b429/b420,b430/b421,b431/b422,b431/b423,b432/b420,b432/b421,b432/b423,b433/b424,b434/b424,b435/b424,b436/b348,b437/b348,b438/b348,b438/b427,b439/b428,b440/b432,b440/b431,b441/b428,b442/b432,b443/b428,b444/b435,b444/b433,b445/b435,b446/b433,b371/b357,b447/b348,b448/b436,b449/b437,b450/b441,b450/b439,b451/b442,b452/b443,b452/b439,b453/b446,b453/b497,b454/b371,b455/b360,b456/b447,b458/b441,b459/b451,b460/b454,b461/b455,b462/b455,b463/b456,b464/b449,b465/b458,b465/b450,b466/b458,b467/b462,b468/b462,b469/b468,
b11/b8,b12/b8,b470/b10,b471/b10,b472/b10,b473/b11,b474/b11,b474/b12,b475/b12,b476/b12,b477/b470,b478/b470,b479/b470,b480/b471,b481/b471,b481/b470,b482/b472,b482/b470,b483/b476,b483/b474,b484/b476,b485/b424,b486/b482,b486/b477,b487/b424,b488/b424,b489/b478,b489/b479,b490/b479,b492/b479,b493/b479,b493/b481,b494/b479,b494/b482,b495/b475,b496/b483,b496/b484,b497/b488,b498/b487,b498/b485,b499/b488,b499/b485,b500/b489,b501/b488,b502/b489,b502/b490,b503/b488,b504/b492,b504/b493,b505/b496,b505/b495,b506/b497,b506/b499,b507/b497,b508/b501,b508/b498,b509/b497,b510/b502,b511/b502,b512/b505,b513/b507,b513/b506,b514/b509,b514/b453,b515/b509,b515/b506,b516/b510,b517/b510,b518/b509,b519/b511,b520/b512,b521/b517,b521/b380,b522/b459,b523/b518,b523/b515,b524/b519,b525/b466,b525/b465,b526/b466,b527/b522,b528/b518,b529/b526,b529/b525,b530/b526,b531/b528,b531/b523,b532/b530,b532/b529}
 \draw[ee] (\a) -- (\b);
\foreach \a/\b in {b25/b17,b31/b15,b69/b38,b50/b47,b55/b51,b56/b54,b60/b54,b57/b6,b61/b56,b61/b42,b67/b61,b68/b61,b73/b67,b75/b68,b76/b68,b82/b73,b83/b73,b84/b75,b87/b82,b88/b82,b88/b74,b89/b84,b90/b84,b90/b76,b93/b89,b93/b90,b95/b93,b98/b97,b94/b87,b77/b67,b85/b73,b80/b56,b113/b104,b123/b54,b145/b134,b154/b144,b155/b145,b158/b80,b159/b153,b160/b155,b166/b160,b165/b145,b170/b164,b171/b31,b172/b164,b173/b166,b173/b167,b177/b173,b178/b172,b178/b170,b179/b173,b146/b133,b147/b134,b120/b111,b228/b225,b198/b233,b239/b235,b239/b236,b245/b237,b284/b280,b290/b284,b294/b267,b301/b295,b379/b341,b449/b448,b457/b448,b464/b457,b522/b491}
 \draw[eb] (\a) -- (\b);
\foreach \a/\b in {b187/b0,b190/b1,b193/b2,b197/b3,b199/b104,b201/b108,b205/b112,b208/b186,b210/b114,b212/b117,b218/b195,b230/b179,b137/b113,b141/b54,b149/b123,b163/b151,b176/b160,b182/b173,b246/b233,b313/b340,b319/b341,b323/b342,b333/b364,b374/b353,b384/b370,b395/b379,b405/b387,b439/b415,b445/b416,b450/b432,b452/b422,b465/b451,b485/b10,b498/b472,b499/b479,b506/b489,b508/b494,b513/b500,b515/b502,b523/b511,b525/b459,b529/b522,b531/b524,b532/b527}
 \draw[er] (\a) -- (\b);
\foreach \a/\b in {b298/b0,b244/b3,b207/b186,b215/b192,b217/b195,b223/b202,b226/b211,b227/b216,b316/b304,b320/b341,b324/b342,b327/b307,b328/b309,b332/b266,b349/b340,b367/b344,b368/b345,b375/b353,b378/b354,b382/b358,b385/b370,b396/b379,b400/b380,b402/b381,b404/b454,b409/b393,b410/b398,b433/b10,b444/b416,b446/b479,b453/b489,b461/b447,b467/b456,b469/b463,b514/b502}
 \draw[eg] (\a) -- (\b);
\foreach \a/\b in {b232/b0,b184/b1,b185/b2,b188/b47,b189/b104,b191/b108,b194/b112,b196/b186,b200/b114,b203/b117,b204/b192,b206/b195,b213/b131,b214/b202,b221/b143,b222/b211,b224/b216,b229/b179,b157/b151,b162/b156,b169/b160,b180/b173,b183/b178,b116/b106,b126/b54,b127/b113,b136/b123,b148/b135,b152/b142,b234/b3,b238/b233,b240/b235,b242/b236,b248/b239,b269/b257,b271/b259,b279/b268,b288/b280,b291/b286,b300/b7,b305/b295,b306/b303,b308/b304,b310/b341,b314/b342,b315/b307,b318/b309,b322/b312,b329/b321,b330/b364,b278/b266,b343/b340,b355/b344,b356/b345,b360/b348,b365/b353,b366/b354,b369/b358,b377/b370,b383/b371,b386/b379,b389/b380,b392/b381,b394/b454,b397/b387,b399/b388,b403/b393,b406/b398,b424/b10,b428/b415,b434/b425,b435/b416,b441/b432,b443/b422,b455/b447,b458/b451,b462/b456,b466/b459,b468/b463,b487/b472,b488/b479,b497/b489,b501/b494,b503/b491,b507/b500,b509/b502,b518/b511,b526/b522,b528/b524,b530/b527}
 \draw[ek] (\a) -- (\b);
\end{pgfonlayer}
\end{tikzpicture}
\end{document}
